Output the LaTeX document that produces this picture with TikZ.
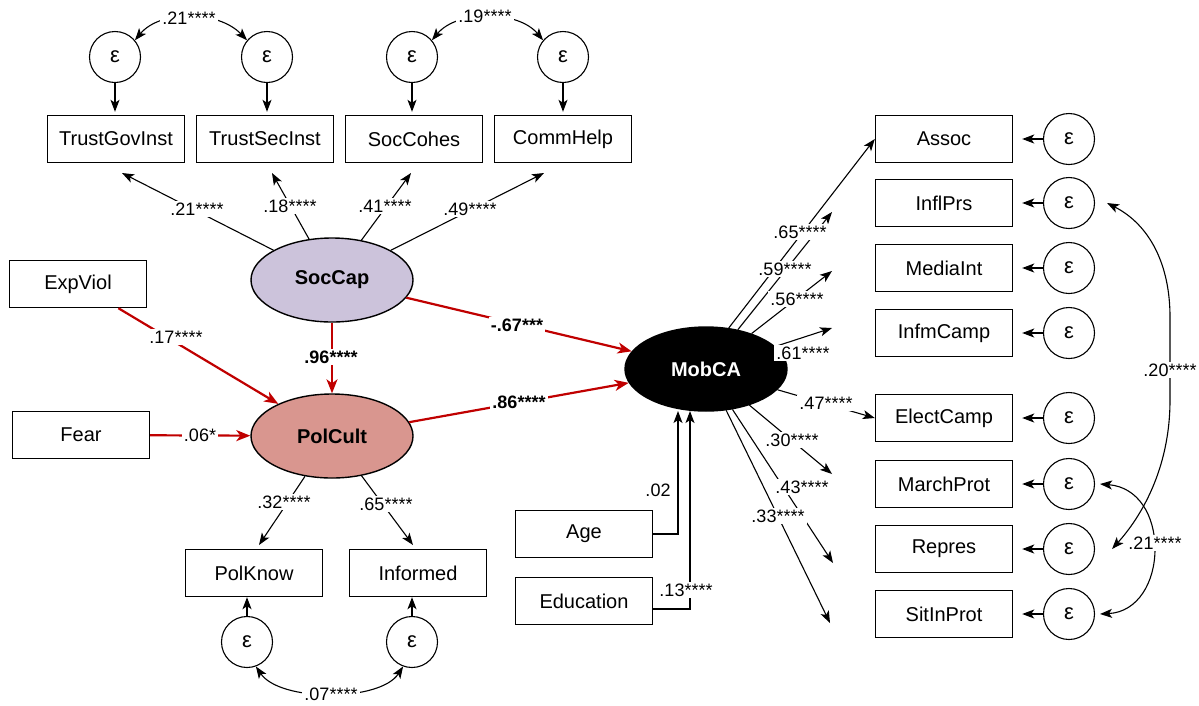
\documentclass[tikz,border=0pt]{standalone}
\usepackage{fontspec}
\setmainfont{Liberation Sans}[Ligatures=NoCommon]
\usetikzlibrary{arrows.meta,shapes.geometric,calc}
\definecolor{redline}{HTML}{C00000}
\definecolor{lav}{HTML}{CCC3DB}
\definecolor{salmon}{HTML}{D9968F}
\begin{document}
\begin{tikzpicture}[x=1pt,y=-1pt,
  obs/.style={draw, line width=1.4pt, minimum width=137pt, minimum height=47pt, inner sep=0pt, font=\fontsize{20}{24}\selectfont},
  err/.style={draw, circle, line width=1.1pt, minimum size=51pt, inner sep=0pt, font=\fontsize{22}{24}\selectfont},
  lat/.style={draw, ellipse, line width=1.4pt, minimum width=162pt, minimum height=84pt, inner sep=0pt, font=\bfseries\fontsize{20}{24}\selectfont},
  lbl/.style={fill=white, inner sep=2pt, font=\fontsize{18}{20}\selectfont},
  blbl/.style={fill=white, inner sep=2pt, font=\bfseries\fontsize{18}{20}\selectfont},
  arr/.style={-{Stealth[length=12pt,width=9pt,inset=3pt]}, line width=1.1pt},
  darr/.style={{Stealth[length=12pt,width=9pt,inset=3pt]}-{Stealth[length=12pt,width=9pt,inset=3pt]}, line width=1.1pt},
  rarr/.style={-{Stealth[length=14pt,width=11pt,inset=4pt]}, line width=2.2pt, draw=redline},
]
\useasboundingbox (0,0) rectangle (1199,705);

% top indicators
\node[obs] (tgi) at (116,139) {TrustGovInst};
\node[obs] (tsi) at (265,139) {TrustSecInst};
\node[obs] (sch) at (414,139) {SocCohes};
\node[obs] (cmh) at (563,139) {CommHelp};
\node[err] (e1) at (115,57) {ε};
\node[err] (e2) at (267,57) {ε};
\node[err] (e3) at (412,57) {ε};
\node[err] (e4) at (563,57) {ε};

% latent
\node[lat, fill=lav] (soc) at (332,280) {SocCap};
\node[lat, fill=salmon] (pol) at (332,436) {PolCult};
\node[lat, fill=black, text=white] (mob) at (706,369) {MobCA};

% exogenous
\node[obs] (exp) at (78,284) {ExpViol};
\node[obs] (fear) at (81,435) {Fear};
\node[obs] (age) at (584,534) {Age};
\node[obs] (edu) at (584,601) {Education};

% bottom indicators
\node[obs] (pk) at (254,573) {PolKnow};
\node[obs] (inf) at (418,573) {Informed};
\node[err] (epk) at (247,642) {ε};
\node[err] (einf) at (412,642) {ε};

% right indicators
\foreach \n/\t/\y in {1/Assoc/139, 2/InflPrs/203, 3/MediaInt/268, 4/InfmCamp/333, 5/ElectCamp/418, 6/MarchProt/484, 7/Repres/549, 8/SitInProt/614}{
  \node[obs] (r\n) at (944,\y) {\t};
  \node[err] (er\n) at (1069,\y) {ε};
  \draw[arr, shorten >=9pt] (er\n) -- (r\n);
}

% error arrows top/bottom
\foreach \e/\b in {e1/tgi, e2/tsi, e3/sch, e4/cmh}{
  \draw[arr, shorten >=3pt] (\e.south) -- (\e.south |- \b.north);
}
\draw[arr] (epk.north) -- (epk.north |- pk.south);
\draw[arr] (einf.north) -- (einf.north |- inf.south);

% covariances
\draw[darr] (e1.40) .. controls (160,10) and (218,10) .. (e2.140);
\draw[darr] (e3.40) .. controls (457,10) and (518,10) .. (e4.140);
\draw[darr] (epk.-70) .. controls (280,702) and (380,702) .. (einf.-110);
\coordinate (c20a) at ([xshift=12pt]er2.east);
\coordinate (c20b) at ([xshift=17pt]er7.east);
\draw[darr] (c20a) .. controls (1150,225) and (1170,265) .. (1170,317) -- (1170,400) .. controls (1170,470) and (1140,518) .. (c20b);
\coordinate (c21a) at ([xshift=5pt]er6.east);
\coordinate (c21b) at ([xshift=5pt]er8.east);
\draw[darr] (c21a) .. controls (1138,487) and (1155,515) .. (1155,549) .. controls (1155,582) and (1138,612) .. (c21b);

% SocCap loadings
\coordinate (t1) at (122,173);
\coordinate (t2) at (272,173);
\coordinate (t3) at (411,173);
\coordinate (t4) at (544,173);
\foreach \t in {t1,t2,t3,t4}{ \draw[arr] (soc) -- (\t); }

% PolCult loadings
\coordinate (p1) at (259,545);
\coordinate (p2) at (413,545);
\draw[arr] (pol) -- (p1);
\draw[arr] (pol) -- (p2);

% MobCA loadings
\coordinate (m2) at (832,212);
\coordinate (m3) at (832,271);
\coordinate (m4) at (832,328);
\coordinate (m6) at (832,474);
\coordinate (m7) at (833,563);
\coordinate (m8) at (830,623);
\draw[arr] (mob.61) -- (r1.west);
\draw[arr] (mob.51) -- (m2);
\draw[arr] (mob) -- (m3);
\draw[arr] (mob) -- (m4);
\draw[arr] (mob) -- (r5.west);
\draw[arr] (mob) -- (m6);
\draw[arr] (mob) -- (m7);
\draw[arr] (mob) -- (m8);

% covariates
\coordinate (at) at (678,411);
\coordinate (et) at (690,411);
\draw[arr] (age.east) -| (at);
\draw[arr] ($(edu.east)+(0,8)$) -| (et);

% structural paths
\draw[rarr] (exp) -- (pol);
\draw[rarr] (fear) -- (pol);
\draw[rarr] (soc) -- (pol);
\draw[rarr] (soc) -- (mob);
\draw[rarr] (pol) -- (mob);

% labels
\node[lbl] (l1) at (189,18) {.21****};
\node[lbl] (l2) at (485,16) {.19****};
\node[lbl] (l3) at (197,209) {.21****};
\node[lbl] (l4) at (290,206) {.18****};
\node[lbl] (l5) at (385,206) {.41****};
\node[lbl] (l6) at (470,209) {.49****};
\node[lbl] (l7) at (176,337) {.17****};
\node[blbl] (l8) at (331,357) {.96****};
\node[blbl] (l9) at (517,325) {-.67***};
\node[blbl] (l10) at (519,402) {.86****};
\node[lbl] (l11) at (200,435) {.06*};
\node[lbl] (l12) at (284,502) {.32****};
\node[lbl] (l13) at (386,504) {.65****};
\node[lbl] (l14) at (331,694) {.07****};
\node[lbl] (l15) at (658,490) {.02};
\node[lbl] (l16) at (686,590) {.13****};
\node[lbl] (l17) at (800,232) {.65****};
\node[lbl] (l18) at (785,269) {.59****};
\node[lbl] (l19) at (797,299) {.56****};
\node[lbl] (l20) at (803,353) {.61****};
\node[lbl] (l21) at (826,403) {.47****};
\node[lbl] (l22) at (792,440) {.30****};
\node[lbl] (l23) at (802,487) {.43****};
\node[lbl] (l24) at (778,516) {.33****};
\node[lbl] (l25) at (1170,370) {.20****};
\node[lbl] (l26) at (1155,543) {.21****};
\end{tikzpicture}
\end{document}
